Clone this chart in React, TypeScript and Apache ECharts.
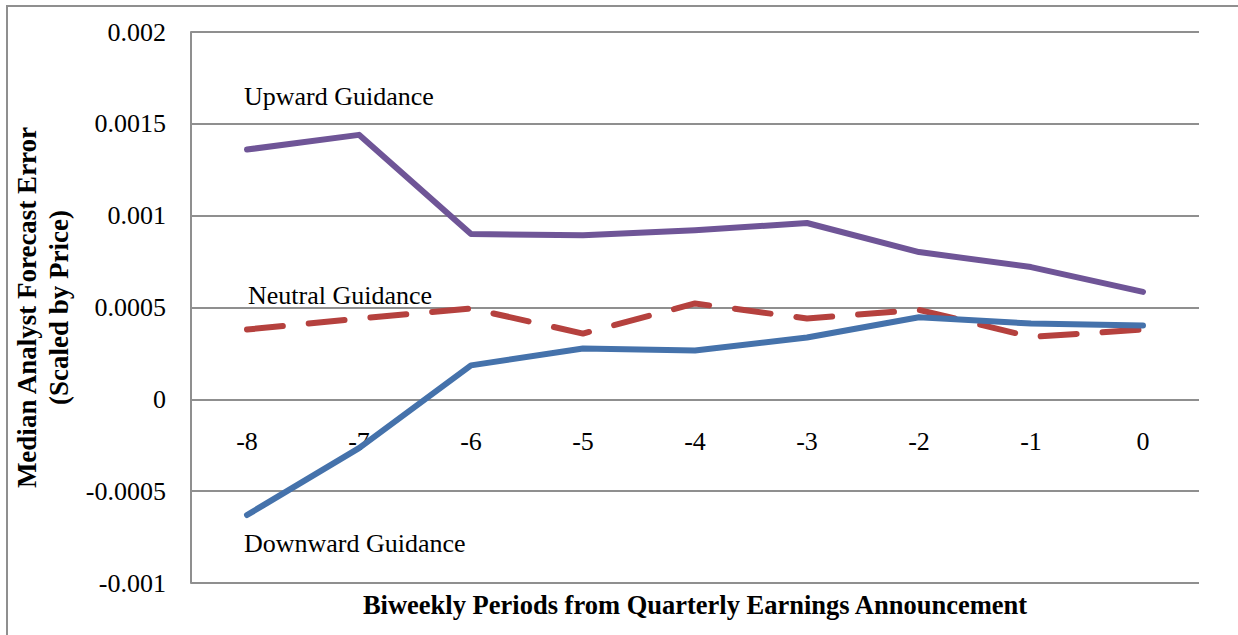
import React, { useEffect, useRef } from "react";
import * as echarts from "echarts";

const categories = ["-8", "-7", "-6", "-5", "-4", "-3", "-2", "-1", "0"];
const upwardGuidance = [0.00136, 0.00144, 0.0009, 0.000893, 0.00092, 0.00096, 0.000802, 0.00072, 0.000585];
const neutralGuidance = [0.00038, 0.00044, 0.000495, 0.000358, 0.000522, 0.00044, 0.000487, 0.00034, 0.00038];
const downwardGuidance = [-0.00063, -0.000266, 0.000185, 0.000277, 0.000266, 0.000337, 0.000447, 0.000413, 0.000402];
const yTickLabels = ["-0.001", "-0.0005", "0", "0.0005", "0.001", "0.0015", "0.002"];
const seriesNames = ["Upward Guidance", "Neutral Guidance", "Downward Guidance"];

const FONT = '"Liberation Serif", "Times New Roman", serif';

export default function App() {
  const ref = useRef<HTMLDivElement>(null);
  useEffect(() => {
    if (!ref.current) return;
    const chart = echarts.init(ref.current, undefined, { renderer: "svg" });
    const lineStyleBase = { width: 6, cap: "round" as const, join: "round" as const };
    chart.setOption({
      animation: false,
      backgroundColor: "#ffffff",
      textStyle: { fontFamily: FONT },
      grid: { left: 191, top: 32, right: 39, bottom: 52, containLabel: false },
      xAxis: {
        type: "category",
        data: categories,
        boundaryGap: true,
        position: "bottom",
        offset: -183,
        axisLine: { show: false, onZero: false },
        axisTick: { show: false },
        axisLabel: { color: "#000", fontSize: 26, fontFamily: FONT, margin: 28 },
        splitLine: { show: false },
      },
      yAxis: {
        type: "value",
        min: -0.001,
        max: 0.002,
        interval: 0.0005,
        axisLine: { show: true, lineStyle: { color: "#8f8f8f", width: 2 } },
        axisTick: { show: false },
        axisLabel: {
          color: "#000",
          fontSize: 26,
          fontFamily: FONT,
          margin: 25,
          formatter: (v: number) => {
            const idx = Math.round((v + 0.001) / 0.0005);
            return yTickLabels[idx] ?? String(v);
          },
        },
        splitLine: { show: true, lineStyle: { color: "#8f8f8f", width: 2 } },
        name: "Median Analyst Forecast Error\n(Scaled by Price)",
        nameLocation: "middle",
        nameRotate: 90,
        nameGap: 110,
        nameTextStyle: { color: "#000", fontSize: 27, fontWeight: "bold", fontFamily: FONT, lineHeight: 32 },
      },
      series: [
        {
          name: seriesNames[0],
          type: "line",
          data: upwardGuidance,
          symbol: "none",
          lineStyle: { ...lineStyleBase, color: "#6f5597" },
          z: 3,
        },
        {
          name: seriesNames[1],
          type: "line",
          data: neutralGuidance,
          symbol: "none",
          lineStyle: { ...lineStyleBase, color: "#b5413e", type: [36, 26] },
          z: 2,
        },
        {
          name: seriesNames[2],
          type: "line",
          data: downwardGuidance,
          symbol: "none",
          lineStyle: { ...lineStyleBase, color: "#4572ab" },
          z: 4,
        },
      ],
      graphic: [
        {
          type: "rect",
          shape: { x: 7, y: 6, width: 1400, height: 800 },
          style: { fill: "none", stroke: "#8f8f8f", lineWidth: 2 },
          silent: true,
        },
        {
          type: "text",
          x: 244,
          y: 96,
          style: { text: seriesNames[0], font: `26px ${FONT}`, fill: "#000", textVerticalAlign: "middle" },
        },
        {
          type: "text",
          x: 248,
          y: 295,
          style: { text: seriesNames[1], font: `26px ${FONT}`, fill: "#000", textVerticalAlign: "middle" },
        },
        {
          type: "text",
          x: 244,
          y: 543,
          style: { text: seriesNames[2], font: `26px ${FONT}`, fill: "#000", textVerticalAlign: "middle" },
        },
        {
          type: "text",
          x: 695,
          y: 605,
          style: {
            text: "Biweekly Periods from Quarterly Earnings Announcement",
            font: `bold 26.5px ${FONT}`,
            fill: "#000",
            textAlign: "center",
            textVerticalAlign: "middle",
          },
        },
      ],
    });
    return () => chart.dispose();
  }, []);
  return (
    <div
      ref={ref}
      style={{ position: "fixed", left: 0, top: 0, width: 1238, height: 635 }}
    />
  );
}
